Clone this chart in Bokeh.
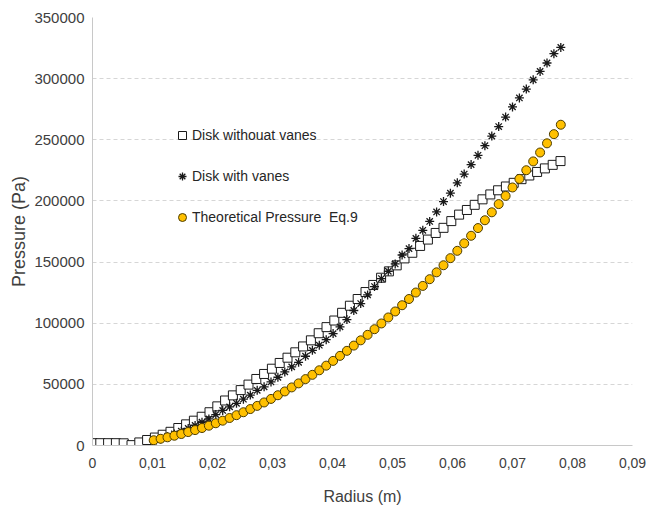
from bokeh.plotting import figure
from bokeh.models import (Range1d, FixedTicker, BasicTickFormatter, CustomJSTickFormatter,
                          Legend, LegendItem)
from bokeh.embed import file_html
from bokeh.resources import INLINE

# Radius sampling (m) for the plain disk measurements
radius_plain = [0, 0.0013, 0.0026, 0.0039, 0.0052, 0.0065, 0.0078, 0.0091, 0.0104, 0.0117,
                0.013, 0.0143, 0.0156, 0.0169, 0.0182, 0.0195, 0.0208, 0.0221, 0.0234, 0.0247,
                0.026, 0.0273, 0.0286, 0.0299, 0.0312, 0.0325, 0.0338, 0.0351, 0.0364, 0.0377,
                0.039, 0.0403, 0.0416, 0.0429, 0.0442, 0.0455, 0.0468, 0.0481, 0.0494, 0.0507,
                0.052, 0.0533, 0.0546, 0.0559, 0.0572, 0.0585, 0.0598, 0.0611, 0.0624, 0.0637,
                0.065, 0.0663, 0.0676, 0.0689, 0.0702, 0.0715, 0.0728, 0.0741, 0.0754, 0.0767,
                0.078]
# Pressure (Pa), disk without vanes
pressure_plain = [1900, 1900, 1900, 1900, 1800, 300, 2500, 4500, 6500, 8800,
                  11200, 14300, 17300, 20300, 23500, 27200, 32000, 36800, 41000, 45300,
                  49800, 54400, 58500, 62800, 67500, 71800, 76200, 81000, 86000, 91800,
                  96800, 102200, 108500, 114300, 119800, 125500, 131300, 137200, 142400, 147300,
                  153000, 157600, 163200, 168400, 173800, 178000, 183500, 188800, 192600, 196800,
                  201300, 205300, 208700, 211800, 214800, 217800, 220800, 223700, 226600, 229500,
                  232600]

# Radius sampling (m) for the vaned disk and the theoretical curve
radius_fine = [0.0102, 0.01135, 0.0125, 0.01365, 0.0148, 0.01595, 0.0171, 0.01825, 0.0194, 0.02055,
               0.0217, 0.02285, 0.024, 0.02515, 0.0263, 0.02745, 0.0286, 0.02975, 0.0309, 0.03205,
               0.0332, 0.03435, 0.0355, 0.03665, 0.0378, 0.03895, 0.0401, 0.04125, 0.0424, 0.04355,
               0.0447, 0.04585, 0.047, 0.04815, 0.0493, 0.05045, 0.0516, 0.05275, 0.0539, 0.05505,
               0.0562, 0.05735, 0.0585, 0.05965, 0.0608, 0.06195, 0.0631, 0.06425, 0.0654, 0.06655,
               0.0677, 0.06885, 0.07, 0.07115, 0.0723, 0.07345, 0.0746, 0.07575, 0.0769, 0.07805]
# Pressure (Pa), disk with vanes
pressure_vanes = [3500, 5400, 7400, 9500, 11700, 14000, 16400, 19000, 21700, 25300,
                  28700, 31600, 34500, 37900, 41200, 45100, 48000, 52000, 55800, 60200,
                  64300, 68000, 73000, 77800, 82000, 86500, 91500, 97000, 103000, 110400,
                  116100, 123100, 130000, 136500, 142500, 148500, 155800, 161000, 169400, 176000,
                  183200, 191000, 199500, 206300, 214800, 222000, 229700, 237300, 245200, 253000,
                  260800, 268600, 276900, 284200, 291500, 299000, 305900, 312800, 320400, 325500]
# Theoretical pressure (Pa), Eq. 9
pressure_theory = [4300, 5500, 6700, 8000, 9400, 11000, 12600, 14300, 16200, 18200,
                   20300, 22500, 24800, 27200, 29800, 32400, 35200, 38100, 41100, 44200,
                   47500, 50800, 54300, 57800, 61500, 65300, 69200, 73300, 77400, 81700,
                   86000, 90500, 95100, 99800, 104700, 109600, 114700, 119800, 125100, 130500,
                   136000, 141600, 147400, 153200, 159200, 165300, 171500, 177800, 184200, 190700,
                   197400, 204100, 211000, 218000, 225100, 232300, 239600, 247100, 254600, 262300]

series_labels = ["Disk withouat vanes", "Disk with vanes", "Theoretical Pressure  Eq.9"]
x_ticks = [0, 0.01, 0.02, 0.03, 0.04, 0.05, 0.06, 0.07, 0.08, 0.09]
y_ticks = [0, 50000, 100000, 150000, 200000, 250000, 300000, 350000]

FONT = "Liberation Sans"
TEXT = "#404040"

p = figure(width=648, height=512, output_backend="svg", toolbar_location=None,
           x_range=Range1d(0, 0.09), y_range=Range1d(0, 350000),
           min_border_left=92, min_border_right=16, min_border_top=17, min_border_bottom=67)
p.outline_line_color = None
p.background_fill_color = "white"
p.border_fill_color = "white"

p.xgrid.grid_line_color = None
p.ygrid.grid_line_color = "#D6D6D6"
p.ygrid.grid_line_dash = "4 3"
p.ygrid.ticker = FixedTicker(ticks=y_ticks)

p.xaxis.ticker = FixedTicker(ticks=x_ticks)
p.xaxis.formatter = CustomJSTickFormatter(
    code="return tick == 0 ? '0' : tick.toFixed(2).replace('.', ',');")
p.yaxis.ticker = FixedTicker(ticks=y_ticks)
p.yaxis.formatter = BasicTickFormatter(use_scientific=False)

for ax in (p.xaxis, p.yaxis):
    ax.major_tick_line_color = None
    ax.minor_tick_line_color = None
    ax.major_tick_out = 0
    ax.major_tick_in = 0
    ax.axis_line_color = "#C8C8C8"
    ax.major_label_text_font = FONT
    ax.major_label_text_color = TEXT
    ax.axis_label_text_font = FONT
    ax.axis_label_text_color = TEXT
    ax.axis_label_text_font_style = "normal"

p.xaxis.axis_label = "Radius (m)"
p.xaxis.major_label_text_font_size = "14px"
p.xaxis.axis_label_text_font_size = "16px"
p.xaxis.major_label_standoff = 12
p.xaxis.axis_label_standoff = 17

p.yaxis.axis_label = "Pressure (Pa)"
p.yaxis.major_label_text_font_size = "15px"
p.yaxis.axis_label_text_font_size = "18px"
p.yaxis.major_label_standoff = 8
p.yaxis.axis_label_standoff = 2

r_plain = p.scatter(radius_plain, pressure_plain, marker="square", size=9,
                    fill_color="white", line_color="#1A1A1A", line_width=1)
r_vanes = p.scatter(radius_fine, pressure_vanes, marker="asterisk", size=9,
                    line_color="#1A1A1A", line_width=1.3)
r_theory = p.scatter(radius_fine, pressure_theory, marker="circle", size=9,
                     fill_color="#FFC000", line_color="#4D3D00", line_width=1)

legend = Legend(items=[LegendItem(label=series_labels[0], renderers=[r_plain]),
                       LegendItem(label=series_labels[1], renderers=[r_vanes]),
                       LegendItem(label=series_labels[2], renderers=[r_theory])],
                location=(80, 218), glyph_width=20, glyph_height=20, label_height=20,
                spacing=21, padding=0, margin=0, label_standoff=0,
                background_fill_alpha=0, border_line_alpha=0,
                label_text_font=FONT, label_text_font_size="14px", label_text_color="#262626")
p.add_layout(legend)

open("out.html", "w").write(file_html(p, INLINE))
